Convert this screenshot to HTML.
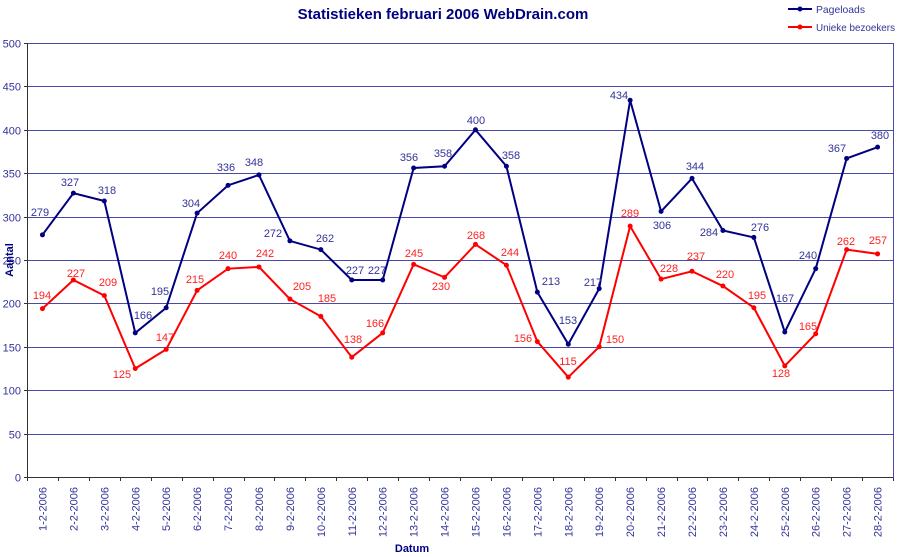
<!DOCTYPE html>
<html><head><meta charset="utf-8"><style>body{margin:0;background:#fff}svg{display:block;font-family:"Liberation Sans",Arial,sans-serif}</style></head><body>
<svg width="900" height="557" viewBox="0 0 900 557" xmlns="http://www.w3.org/2000/svg">
<text x="443" y="19" text-anchor="middle" font-size="15" font-weight="bold" fill="#000080">Statistieken februari 2006 WebDrain.com</text>
<g id="grid" stroke="#4a4aa8" stroke-width="1"></g>
<rect x="27.5" y="43.5" width="866" height="434" fill="none" stroke="#4a4aa8"/>
<line x1="27.5" y1="43" x2="27.5" y2="478" stroke="#333"/>
<line x1="27" y1="477.5" x2="893" y2="477.5" stroke="#333"/>
<g id="ylab" font-size="11" fill="#33339a" text-anchor="end"></g>
<g id="xlab" font-size="11" fill="#33339a"></g>
<text x="0" y="0" font-size="11" font-weight="bold" fill="#000080" transform="translate(13,260) rotate(-90)" text-anchor="middle">Aantal</text>
<text x="412" y="552" font-size="11" font-weight="bold" fill="#000080" text-anchor="middle">Datum</text>
<g id="series"></g>
<g font-size="10.5" fill="#33339a">
<line x1="788" y1="9" x2="812" y2="9" stroke="#000080" stroke-width="2"/><circle cx="800" cy="9" r="2.5" fill="#000080"/>
<text x="816" y="13" textLength="49" lengthAdjust="spacingAndGlyphs">Pageloads</text>
<line x1="788" y1="27" x2="812" y2="27" stroke="#ff0000" stroke-width="2"/><circle cx="800" cy="27" r="2.5" fill="#ff0000"/>
<text x="816" y="31" textLength="79" lengthAdjust="spacingAndGlyphs">Unieke bezoekers</text>
</g>
</svg>
<script>
const NS="http://www.w3.org/2000/svg";
function el(p,t,a,txt){const e=document.createElementNS(NS,t);for(const k in a)e.setAttribute(k,a[k]);if(txt!==undefined)e.textContent=txt;p.appendChild(e);return e;}
const Y=v=>477-v*0.868, X=i=>27+30.93*(i+0.5);
const g=document.getElementById('grid'),yl=document.getElementById('ylab'),xl=document.getElementById('xlab');
for(let v=0;v<=500;v+=50){const y=Math.round(Y(v))+0.5;if(v>0&&v<500)el(g,'line',{x1:27,y1:y,x2:893,y2:y});el(yl,'text',{x:21,y:y+4},v);el(g,'line',{x1:24,y1:y,x2:28,y2:y,stroke:'#333'});}
for(let i=0;i<=28;i++){const x=Math.round(27+30.93*i)+0.5;el(g,'line',{x1:x,y1:477,x2:x,y2:481,stroke:'#333'});}
for(let i=0;i<28;i++){el(xl,'text',{x:0,y:0,transform:`translate(${X(i)+4},487) rotate(-90)`,'text-anchor':'end'},(i+1)+'-2-2006');}
const P=[279,327,318,166,195,304,336,348,272,262,227,227,356,358,400,358,213,153,217,434,306,344,284,276,167,240,367,380];
const U=[194,227,209,125,147,215,240,242,205,185,138,166,245,230,268,244,156,115,150,289,228,237,220,195,128,165,262,257];
const PL=[[40,212],[70,182],[107,190],[143,315],[160,291],[191,203],[226,167],[254,162],[273,233],[325,238],[355,270],[377,270],[409,157],[443,153],[476,120],[511,155],[551,281],[568,320],[593,282],[619,95],[662,225],[695,166],[709,232],[760,227],[785,298],[808,255],[837,148],[880,135]];
const UL=[[42,295],[76,273],[108,282],[122,374],[165,337],[195,279],[228,255],[265,253],[302,286],[327,298],[353,339],[375,323],[414,253],[441,286],[476,235],[510,252],[523,338],[568,361],[615,339],[630,213],[669,268],[696,256],[725,274],[757,295],[781,373],[808,326],[846,241],[878,240]];
const s=document.getElementById('series');
[[P,'#000080',PL,'#33339a'],[U,'#ff0000',UL,'#ff2020']].forEach(([d,c,L,lc])=>{
 el(s,'polyline',{points:d.map((v,i)=>X(i)+','+Y(v)).join(' '),fill:'none',stroke:c,'stroke-width':2});
 d.forEach((v,i)=>{el(s,'circle',{cx:X(i),cy:Y(v),r:2.5,fill:c});el(s,'text',{x:L[i][0],y:L[i][1]+4,'font-size':11,fill:lc,'text-anchor':'middle'},v);});
});
</script>
</body></html>
